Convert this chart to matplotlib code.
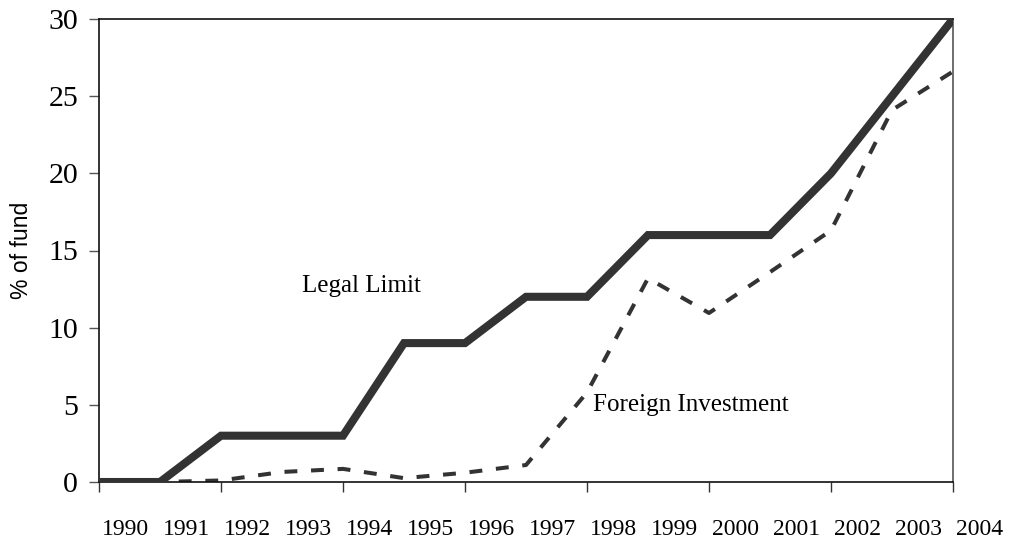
import matplotlib
matplotlib.use("Agg")
import matplotlib.pyplot as plt
from matplotlib.transforms import blended_transform_factory

years = ["1990", "1991", "1992", "1993", "1994", "1995", "1996", "1997",
         "1998", "1999", "2000", "2001", "2002", "2003", "2004"]
legal_limit = [0, 0, 3, 3, 3, 9, 9, 12, 12, 16, 16, 16, 20, 25, 30]
foreign_investment = [0, 0, 0.1, 0.65, 0.85, 0.25, 0.6, 1.1, 5.8, 13.2, 10.95, 13.6, 16.3, 24.1, 26.6]
y_ticks = [0, 5, 10, 15, 20, 25, 30]

serif = ["Liberation Serif", "DejaVu Serif"]
sans = ["Liberation Sans", "DejaVu Sans"]
col = "#333333"

fig = plt.figure(figsize=(10.11, 5.39), dpi=100)
ax = fig.add_axes([99/1011, 57/539, (953-99)/1011, (482-19)/539])

x = list(range(len(years)))
ax.plot(x, legal_limit, color=col, lw=5.8, solid_joinstyle="miter", zorder=3)
ax.plot(x, foreign_investment, color=col, lw=2.9, linestyle=(0, (3.2, 3.4)),
        dash_capstyle="butt", zorder=2)

ax.set_xlim(0, len(years) - 1)
ax.set_ylim(0, 30)
ax.set_yticks(y_ticks)
ax.set_yticklabels([str(v) for v in y_ticks], fontfamily=serif, fontsize=21.5)
ax.tick_params(axis="y", length=7, width=1, pad=8, color="#555555")
ax.set_xticks(x[::2])
ax.set_xticklabels([])
ax.tick_params(axis="x", length=7, width=1, color="#333333")

tr = blended_transform_factory(ax.transData, ax.transAxes)
for i, lab in enumerate(years):
    ax.text(i + 0.44, -0.103, lab, transform=tr, ha="center", va="center",
            fontfamily=serif, fontsize=17, clip_on=False)

fig.text(22/1011, 1 - 250/539, "% of fund", rotation=90, ha="center", va="center",
         fontfamily=sans, fontsize=16.5)

ax.text(3.33, 12.7, "Legal Limit", fontfamily=serif, fontsize=18, ha="left", va="center")
ax.text(8.1, 5.0, "Foreign Investment", fontfamily=serif, fontsize=18, ha="left", va="center")

for s in ["left", "bottom", "top"]:
    ax.spines[s].set_color("#111111")
    ax.spines[s].set_linewidth(1.2)
ax.spines["right"].set_color("#555555")
ax.spines["right"].set_linewidth(1.2)

fig.savefig("out.png", dpi=100)
